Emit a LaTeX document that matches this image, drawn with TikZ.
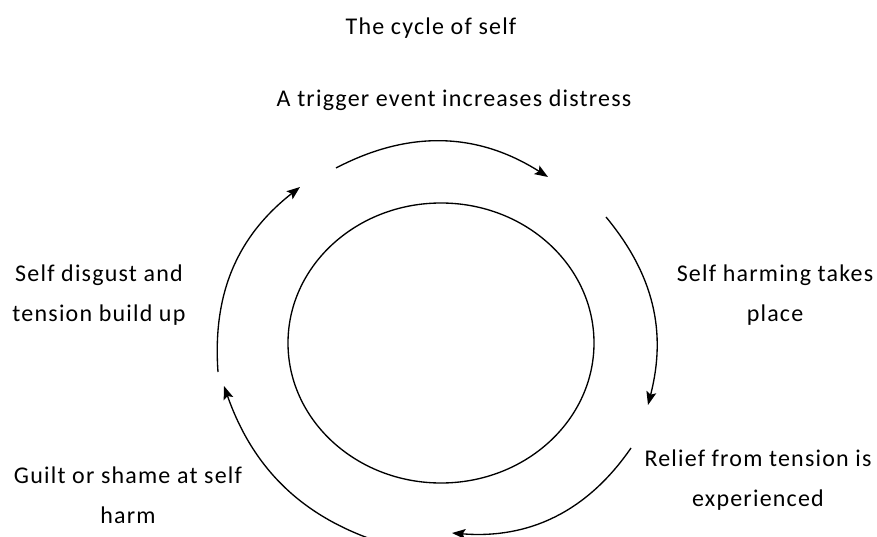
\documentclass[tikz,border=0pt]{standalone}
\usepackage{fontspec}
\setmainfont{Carlito}[LetterSpace=5]
\usetikzlibrary{arrows.meta}
\tikzstyle{stage}=[align=center,inner sep=0pt,font=\fontsize{18}{30}\selectfont]
\tikzstyle{cycarrow}=[line width=1pt,-{Stealth[length=10pt,width=7.5pt,inset=2pt]}]

\begin{document}
\begin{tikzpicture}[x=0.75pt,y=0.75pt]
\useasboundingbox (0,0) rectangle (877,536);
\clip (0,0) rectangle (877,536);
    \node [stage] (title) at (431,508) {The cycle of self};
    \node [stage] (trigger) at (454,436) {A trigger event increases distress};
    \node [stage] (harming) at (775,241) {Self harming takes\\place};
    \node [stage] (relief) at (758,56) {Relief from tension is\\experienced};
    \node [stage] (guilt) at (128,41) {Guilt or shame at self\\harm};
    \node [stage] (disgust) at (99,241) {Self disgust and\\tension build up};
    \coordinate (centre) at (441,193);
    \draw [line width=1pt] (centre) ellipse [x radius=153, y radius=140];
    \coordinate (s1) at (336,368); \coordinate (e1) at (548,359);
    \coordinate (s2) at (606,319); \coordinate (e2) at (648,131);
    \coordinate (s3) at (631,88);  \coordinate (e3) at (452,3);
    \coordinate (s4) at (400,-12); \coordinate (e4) at (224,150);
    \coordinate (s5) at (218,164); \coordinate (e5) at (300,349);
    \draw [cycarrow] (s1) to[bend left=30] (e1);
    \draw [cycarrow] (s2) to[bend left=27] (e2);
    \draw [cycarrow] (s3) to[bend left=30] (e3);
    \draw [cycarrow] (s4) to[bend left=28] (e4);
    \draw [cycarrow] (s5) to[bend left=28] (e5);
\end{tikzpicture}
\end{document}
